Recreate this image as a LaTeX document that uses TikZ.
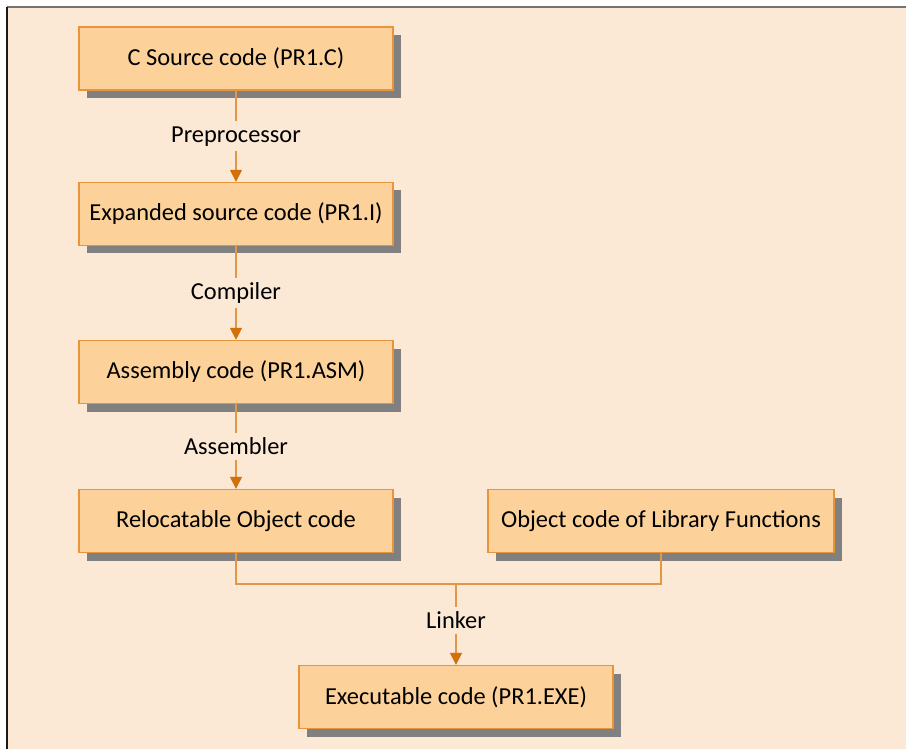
\documentclass[tikz,border=0pt]{standalone}
\usepackage{fontspec}
\setmainfont{Carlito}
\usetikzlibrary{arrows.meta,shadows}
\definecolor{fond}{RGB}{251,232,213}
\definecolor{boite}{RGB}{252,210,154}
\definecolor{bord}{RGB}{232,148,58}
\definecolor{trait}{RGB}{226,150,70}
\definecolor{pointe}{RGB}{210,112,10}
\tikzset{
  etape/.style={draw=bord, line width=1.3pt, fill=boite, minimum width=314pt, minimum height=63pt,
    inner sep=0pt, font=\fontsize{24.4}{28}\selectfont,
    drop shadow={shadow xshift=8pt, shadow yshift=-8pt, fill=black!50, opacity=1}},
  lien/.style={draw=trait, line width=1.1pt},
  fleche/.style={lien, -{Triangle[width=12pt,length=12pt,color=pointe]}},
  etiq/.style={fill=fond, inner sep=5pt, font=\fontsize{24.4}{28}\selectfont}
}

\begin{document}
\begin{tikzpicture}[x=1pt,y=-1pt]
\useasboundingbox (0,0) rectangle (906,749);
\fill[fond] (7,7) rectangle (906,749);
\draw[black!55, line width=1.5pt] (7,7) -- (906,7);
\draw[black!90, line width=1.5pt] (7,7) -- (7,749);

\node[etape] (src) at (236,58.5) {C Source code (PR1.C)};
\node[etape] (exp) at (236,214) {Expanded source code (PR1.I)};
\node[etape] (asm) at (236,372) {Assembly code (PR1.ASM)};
\node[etape] (rel) at (236,521) {Relocatable Object code};
\node[etape, minimum width=346pt] (lib) at (661,521) {Object code of Library Functions};
\node[etape] (exe) at (456,697) {Executable code (PR1.EXE)};
\coordinate (jonc) at (456,584);

\draw[fleche] (src) -- node[etiq] {Preprocessor} (exp);
\draw[fleche] (exp) -- node[etiq] {Compiler} (asm);
\draw[fleche] (asm) -- node[etiq] {Assembler} (rel);
\draw[lien] (rel.south) |- (jonc) -| (lib.south);
\draw[fleche] (jonc) -- node[etiq, pos=0.45] {Linker} (exe);
\end{tikzpicture}
\end{document}
